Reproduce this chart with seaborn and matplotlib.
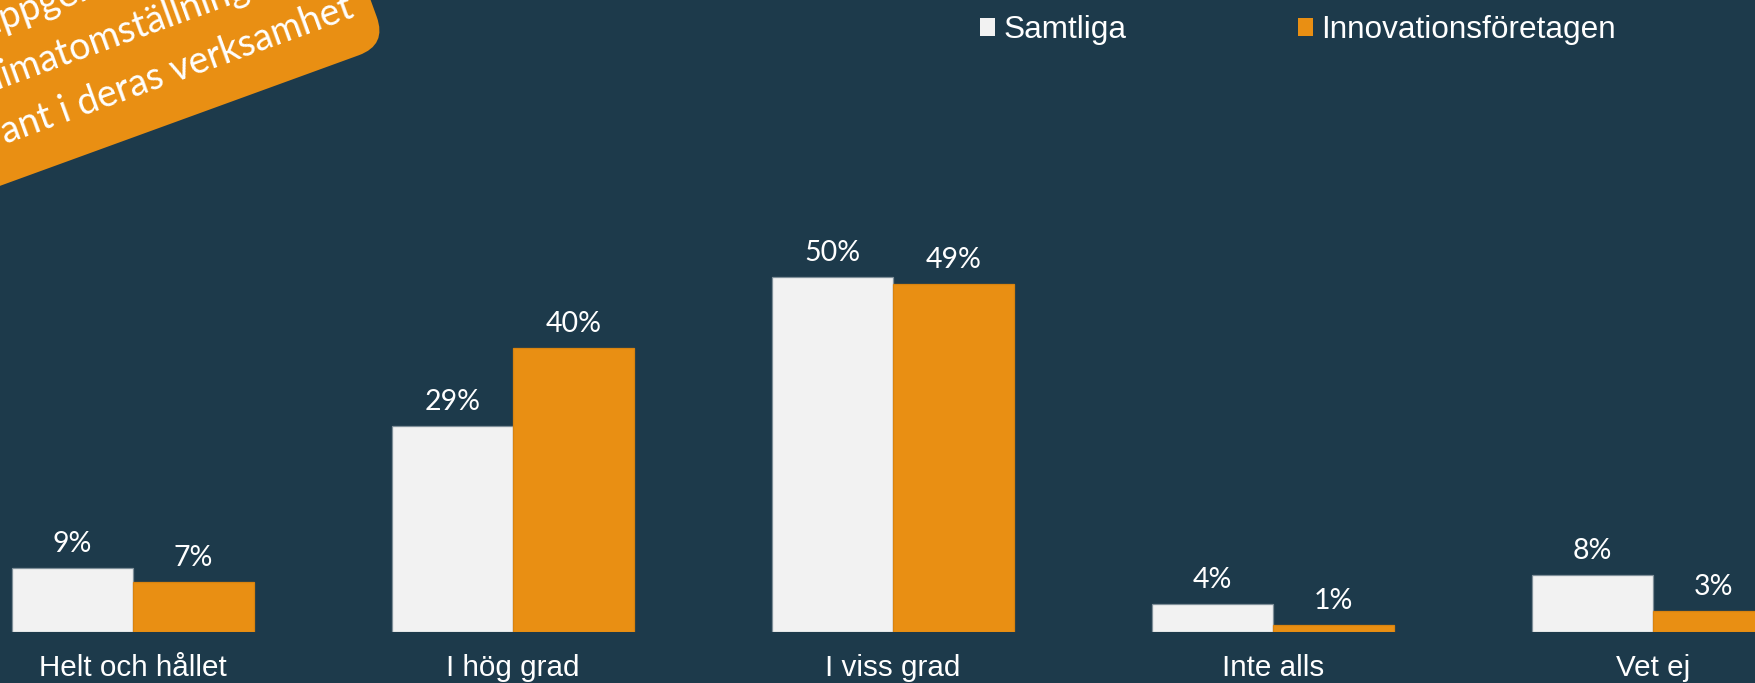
import numpy as np
import matplotlib.pyplot as plt
import pandas as pd
import seaborn as sns
from matplotlib.patches import FancyBboxPatch
from matplotlib.transforms import Affine2D


#%% Data

categories = ["Helt och hållet", "I hög grad", "I viss grad", "Inte alls", "Vet ej"]
groups = ["Samtliga", "Innovationsföretagen"]
samtliga = [9, 29, 50, 4, 8]
innovation = [7, 40, 49, 1, 3]

banner_lines = ["Andel som uppger att",
                "klimatomställningen är",
                "relevant i deras verksamhet"]

bg = "#1d3a4b"
orange = "#e98f13"
light = "#f2f2f2"

data = pd.DataFrame({
    "kategori": categories * 2,
    "grupp": [groups[0]] * len(categories) + [groups[1]] * len(categories),
    "andel": samtliga + innovation,
})

#%% Plot

plt.rcParams['font.family'] = ['Liberation Sans', 'DejaVu Sans']

fig = plt.figure(figsize=(17.55, 6.83), dpi=100, facecolor=bg)
ax = fig.add_axes([0, 51 / 683, 1, 632 / 683])
ax.set_facecolor(bg)

sns.barplot(data=data, x="kategori", y="andel", hue="grupp", hue_order=groups,
            palette=[light, orange], width=0.637, saturation=1, ax=ax,
            linewidth=0.9)

edges = ["#7f8f99", "#d9830f"]
for cont, vals, ec in zip(ax.containers, [samtliga, innovation], edges):
    for bar in cont:
        bar.set_edgecolor(ec)
    ax.bar_label(cont, labels=[f"{v}%" for v in vals], padding=8,
                 fontsize=20.5, color="white", family="Lato")

ax.set_xlim(-0.35, 4.268)
ax.set_ylim(0, 89.06)
ax.set_xlabel("")
ax.set_ylabel("")
ax.set_yticks([])
ax.tick_params(axis="x", length=0, pad=16, labelsize=21.3, labelcolor="white")
sns.despine(ax=ax, left=True, bottom=True)

sns.move_legend(ax, "upper left", bbox_to_anchor=(980 / 1755, 1 - 15 / 683),
                bbox_transform=fig.transFigure, ncol=2, frameon=False, title=None,
                fontsize=22.7, labelcolor="white", handlelength=0.48,
                handleheight=0.48, handletextpad=0.27, columnspacing=5.43,
                borderpad=0, borderaxespad=0)

# rotated orange banner in the top left corner (pixel coords, rotated 20 deg)
px = Affine2D().rotate_deg(20).translate(387, 638).scale(1 / 100) + fig.dpi_scale_trans
banner = FancyBboxPatch((-800, 0), 800, 450, boxstyle="round,pad=0,rounding_size=30",
                        facecolor=orange, edgecolor="none", transform=px)
fig.add_artist(banner)

txt = dict(transform=px, rotation=20, rotation_mode="anchor", va="baseline",
           fontsize=27, family="Lato", color="white")
fig.text(-205, 145, banner_lines[0], ha="right", **txt)
fig.text(-400, 91, banner_lines[1], ha="left", **txt)
fig.text(-20, 37, banner_lines[2], ha="right", **txt)

fig.savefig("out.png", dpi=100, facecolor=bg)
